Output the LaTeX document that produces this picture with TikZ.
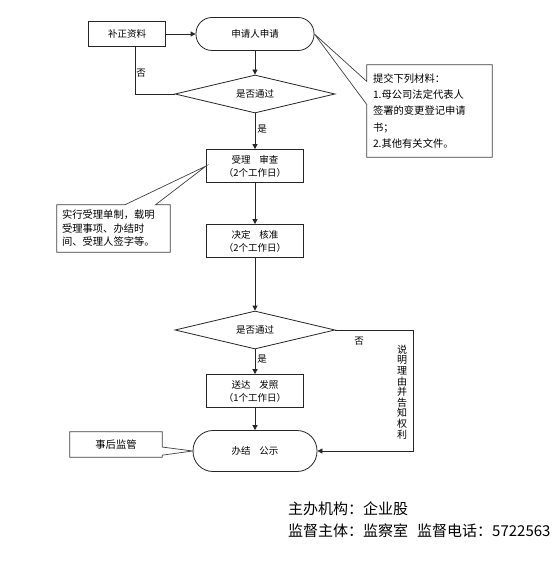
\documentclass[tikz,border=0pt]{standalone}
\usepackage{fontspec}
\setmainfont{Noto Sans CJK SC}
\usetikzlibrary{arrows.meta,calc,shapes.geometric}

\begin{document}
\begin{tikzpicture}[
  x=1pt, y=-1pt,
  >={Triangle[length=5pt,width=5pt]},
  line join=miter,
  every node/.style={font=\fontsize{9.5}{13}\selectfont, inner sep=1pt},
  flow/.style={draw=black!85, line width=0.8pt},
  procbox/.style={flow, fill=white, minimum width=97pt, minimum height=33pt, align=center},
  termbox/.style={procbox, rounded corners=16pt},
  decision/.style={flow, fill=white, diamond, aspect=4.5, inner sep=0pt,
    minimum width=160pt, minimum height=38pt},
  notetext/.style={inner ysep=0pt, align=left, font=\fontsize{10.3}{13.5}\selectfont},
  callout/.style={draw=black!75, line width=0.7pt},
  footnote/.style={anchor=west, inner sep=0pt, font=\fontsize{15}{16}\selectfont}
]
  % Page frame
  \fill[white] (0,0) rectangle (554,583);
  \useasboundingbox (0,0) rectangle (554,583);

  % Main column of steps
  \node[termbox, minimum width=118pt] (apply) at (255,34) {申请人申请};
  \node[procbox, minimum width=77pt, minimum height=25pt] (supp) at (127,34) {补正资料};
  \node[decision] (check1) at (255,94) {是否通过};
  \node[procbox] (review) at (255,166) {受理\hspace{0.9em}审查\\（2个工作日）};
  \node[procbox] (approve) at (255,241) {决定\hspace{0.9em}核准\\（2个工作日）};
  \node[decision] (check2) at (255,330) {是否通过};
  \node[procbox] (issue) at (255,391) {送达\hspace{0.9em}发照\\（1个工作日）};
  \node[termbox, minimum width=124pt, minimum height=41pt, rounded corners=20pt]
    (finish) at (255,451) {办结\hspace{0.9em}公示};

  % Flow connectors
  \draw[flow, ->] (supp) -- (apply);
  \draw[flow, ->] (apply) -- (check1);
  \draw[flow] (check1.west) -| ([xshift=8pt]supp.south);
  \node (no1) at (141,73) {否};
  \draw[flow, ->] (check1) -- node[right=1pt, pos=0.45] (yes1) {是} (review);
  \draw[flow, ->] (review) -- (approve);
  \draw[flow, ->] (approve) -- (check2);
  \draw[flow, ->] (check2) -- node[right=1pt, pos=0.4] (yes2) {是} (issue);
  \draw[flow, ->] (issue) -- (finish);

  % Rejection path on the right
  \coordinate (rturn) at (413,330);
  \draw[flow, ->] (check2.east) -- (rturn) |- (finish.east);
  \node (no2) at (359,341) {否};
  \node[align=center, inner sep=0pt, font=\fontsize{10}{10.6}\selectfont] (reason) at (402,392)
    {说\\明\\理\\由\\并\\告\\知\\权\\利};

  % Callout notes
  \node[notetext, inner xsep=6pt, text width=113pt, minimum height=92pt,
    font=\fontsize{10.3}{16.3}\selectfont]
    (note2) at (429.5,111) {提交下列材料：\\1.母公司法定代表人\\签署的变更登记申请\\书；\\2.其他有关文件。};
  \draw[callout] (note2.north west) -- (note2.north east) -- (note2.south east)
    -- (note2.south west) -- ($(note2.north west)!0.43!(note2.south west)$)
    -- (apply.east) -- ($(note2.north west)!0.18!(note2.south west)$) -- cycle;

  \node[notetext, inner xsep=5pt, text width=103pt, minimum height=47pt] (note1) at (113.5,228.5)
    {实行受理单制，载明\\受理事项、办结时\\间、受理人签字等。};
  \draw[callout] (note1.north west) -- ($(note1.north west)!0.6!(note1.north east)$)
    -- (review.west) -- ($(note1.north west)!0.87!(note1.north east)$)
    -- (note1.north east) -- (note1.south east) -- (note1.south west) -- cycle;

  \node[notetext, align=center, minimum width=92pt, minimum height=25pt] (note3) at (116,444.5) {事后监管};
  \draw[callout] (note3.north west) -- (note3.north east)
    -- ($(note3.north east)!0.6!(note3.south east)$) -- (finish.west)
    -- ($(note3.north east)!0.92!(note3.south east)$) -- (note3.south east)
    -- (note3.south west) -- cycle;

  % Footer
  \node[footnote] (org) at (288,509) {主办机构：企业股};
  \node[footnote] (watch) at (288,531) {监督主体：监察室\hspace{0.6em}监督电话：5722563};
\end{tikzpicture}
\end{document}
